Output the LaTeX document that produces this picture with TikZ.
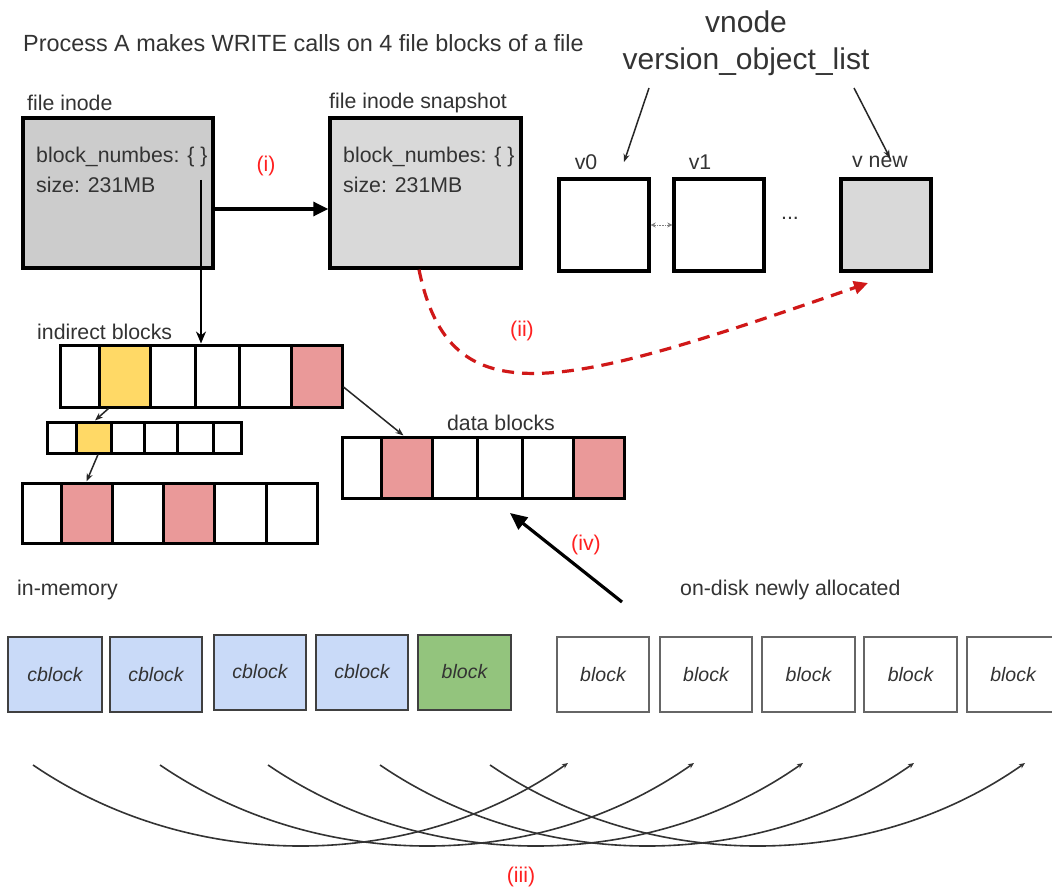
\documentclass[tikz,border=0pt]{standalone}
\usepackage{fontspec}
\setmainfont{Liberation Sans}
\usetikzlibrary{arrows.meta}
\definecolor{txt}{HTML}{333333}
\definecolor{inodefill}{HTML}{CCCCCC}
\definecolor{snapfill}{HTML}{D9D9D9}
\definecolor{yel}{HTML}{FFD966}
\definecolor{pnk}{HTML}{EA9999}
\definecolor{blu}{HTML}{C9DAF8}
\definecolor{grn}{HTML}{93C47D}
\definecolor{dred}{HTML}{D01818}
\definecolor{lred}{HTML}{FF2020}
\begin{document}
\begin{tikzpicture}[x=1pt,y=-1pt,
  lbl/.style={font=\fontsize{21.3}{26}\selectfont, text=txt, inner sep=0pt},
  ttl/.style={font=\fontsize{23.4}{28}\selectfont, text=txt, inner sep=0pt},
  bigl/.style={font=\fontsize{30}{34}\selectfont, text=txt, inner sep=0pt},
  redl/.style={font=\fontsize{21.3}{26}\selectfont, text=lred, inner sep=0pt},
  bigbox/.style={draw=black, line width=3.4pt, inner sep=0pt},
  cell/.style={draw=black, line width=3pt, inner sep=0pt, fill=white},
  memb/.style={draw=black!75, line width=2pt, inner sep=0pt, minimum height=75pt,
    font=\fontsize{19.5}{22}\selectfont\itshape, text=txt},
  diskb/.style={draw=black!60, line width=2.2pt, inner sep=0pt, minimum height=75pt, fill=white,
    font=\fontsize{19.5}{22}\selectfont\itshape, text=txt},
  smallarr/.style={line width=1.5pt, draw=black!85, -{Stealth[length=8pt,width=6pt]}},
  arcst/.style={line width=1.6pt, draw=black!80, -{Stealth[length=6pt,width=5pt]}}
]
\useasboundingbox (0,0) rectangle (1052,896);
\fill[white] (0,0) rectangle (1052,896);

% title
\node[ttl, anchor=west] (title) at (23,43) {Process A makes WRITE calls on 4 file blocks of a file};

% inode and snapshot
\node[bigbox, fill=inodefill, minimum width=190pt, minimum height=150pt] (inode) at (118,193) {};
\node[bigbox, fill=snapfill, minimum width=191pt, minimum height=150pt] (snap) at (425.5,193) {};
\node[lbl, anchor=west] (inodel) at (27,103) {file inode};
\node[lbl, anchor=west] (snapl) at (329,103) {file inode snapshot};
\node[lbl, anchor=west] (ibn) at (36,157) {block\_numbes: \{ \}};
\node[lbl, anchor=west] (isz) at (36,185) {size: 231MB};
\node[lbl, anchor=west] (sbn) at (343,157) {block\_numbes: \{ \}};
\node[lbl, anchor=west] (ssz) at (343,185) {size: 231MB};
\draw[line width=3.2pt, -{Triangle[length=15pt,width=14pt]}] ([yshift=-16pt]inode.east) -- ([yshift=-16pt]snap.west);
\node[redl] (li) at (266,166) {(i)};

% vnode
\node[bigl] (vnode) at (746,22) {vnode};
\node[bigl] (vol) at (746,62) {version\_object\_list};
\node[bigbox, fill=white, minimum width=90pt, minimum height=92pt] (v0) at (604,225) {};
\node[bigbox, fill=white, minimum width=90pt, minimum height=92pt] (v1) at (719,225) {};
\node[bigbox, fill=snapfill, minimum width=90pt, minimum height=92pt] (vnew) at (886,225) {};
\node[lbl] (v0l) at (586,162) {v0};
\node[lbl] (v1l) at (700,162) {v1};
\node[lbl] (vnewl) at (880,162) {v new};
\node[lbl, anchor=base] (dots) at (790,219) {...};
\coordinate (va) at (649,88);
\coordinate (vb) at (854,88);
\coordinate (vae) at (624,162);
\coordinate (vbe) at (890,158);
\draw[smallarr] (va) -- (vae);
\draw[smallarr] (vb) -- (vbe);
\draw[line width=0.6pt, draw=black!50, densely dotted, {Stealth[length=5pt,width=5pt]}-{Stealth[length=5pt,width=5pt]}] (v0.east) -- (v1.west);

% indirect blocks row 1
\node[lbl, anchor=west] (indl) at (37,332) {indirect blocks};
\node[cell, minimum width=39pt, minimum height=62pt] (r1c1) at (79.5,376) {};
\node[cell, fill=yel, minimum width=51pt, minimum height=62pt] (r1c2) at (124.5,376) {};
\node[cell, minimum width=45pt, minimum height=62pt] (r1c3) at (172.5,376) {};
\node[cell, minimum width=44pt, minimum height=62pt] (r1c4) at (217,376) {};
\node[cell, minimum width=52pt, minimum height=62pt] (r1c5) at (265,376) {};
\node[cell, fill=pnk, minimum width=51pt, minimum height=62pt] (r1c6) at (316.5,376) {};
% row 2
\node[cell, minimum width=29pt, minimum height=31pt] (r2c1) at (61.5,437.5) {};
\node[cell, fill=yel, minimum width=35pt, minimum height=31pt] (r2c2) at (93.5,437.5) {};
\node[cell, minimum width=33pt, minimum height=31pt] (r2c3) at (127.5,437.5) {};
\node[cell, minimum width=33pt, minimum height=31pt] (r2c4) at (160.5,437.5) {};
\node[cell, minimum width=36pt, minimum height=31pt] (r2c5) at (195,437.5) {};
\node[cell, minimum width=28pt, minimum height=31pt] (r2c6) at (227,437.5) {};
% row 3
\node[cell, minimum width=39pt, minimum height=60pt] (r3c1) at (41.5,513) {};
\node[cell, fill=pnk, minimum width=51pt, minimum height=60pt] (r3c2) at (86.5,513) {};
\node[cell, minimum width=51pt, minimum height=60pt] (r3c3) at (137.5,513) {};
\node[cell, fill=pnk, minimum width=51pt, minimum height=60pt] (r3c4) at (188.5,513) {};
\node[cell, minimum width=52pt, minimum height=60pt] (r3c5) at (240,513) {};
\node[cell, minimum width=51pt, minimum height=60pt] (r3c6) at (291.5,513) {};
% data blocks
\node[lbl] (datal) at (501,423) {data blocks};
\node[cell, minimum width=39pt, minimum height=61pt] (d1) at (361.5,467.5) {};
\node[cell, fill=pnk, minimum width=51pt, minimum height=61pt] (d2) at (406.5,467.5) {};
\node[cell, minimum width=45pt, minimum height=61pt] (d3) at (454.5,467.5) {};
\node[cell, minimum width=45pt, minimum height=61pt] (d4) at (499.5,467.5) {};
\node[cell, minimum width=51pt, minimum height=61pt] (d5) at (547.5,467.5) {};
\node[cell, fill=pnk, minimum width=51pt, minimum height=61pt] (d6) at (598.5,467.5) {};

% connectors of blocks
\coordinate (vs) at (201,180);
\draw[line width=2.6pt, -{Stealth[length=12pt,width=10pt]}] (vs) -- (vs |- r1c4.north);
\draw[smallarr] ([xshift=-16pt]r1c2.south) -- ([xshift=1.5pt]r2c2.north);
\draw[smallarr] ([xshift=4.5pt]r2c2.south) -- (r3c2.north);
\draw[smallarr] ([yshift=-11pt]r1c6.east) -- ([xshift=-3pt]d2.north);

% (ii) dashed
\coordinate (dend) at (868,283);
\draw[dred, line width=3.2pt, dash pattern=on 12pt off 8pt, -{Triangle[length=14pt,width=13pt]}]
  ([xshift=-6.5pt]snap.south) .. controls (450,420) and (560,390) .. (dend);
\node[redl] (lii) at (522,331) {(ii)};

% (iv)
\coordinate (ivs) at (622,602);
\coordinate (ive) at (510,513);
\draw[line width=3.2pt, -{Triangle[length=17pt,width=15pt]}] (ivs) -- (ive);
\node[redl] (liv) at (586,545) {(iv)};

% in-memory
\node[lbl, anchor=west] (meml) at (17,590) {in-memory};
\node[memb, fill=blu, minimum width=94pt] (m1) at (55,674.5) {cblock};
\node[memb, fill=blu, minimum width=92pt] (m2) at (156,674.5) {cblock};
\node[memb, fill=blu, minimum width=92pt] (m3) at (260,672) {cblock};
\node[memb, fill=blu, minimum width=92pt] (m4) at (362,672) {cblock};
\node[memb, fill=grn, minimum width=93pt] (m5) at (464.5,672) {block};

% on-disk
\node[lbl, anchor=west] (diskl) at (680,590) {on-disk newly allocated};
\node[diskb, minimum width=92pt] (k1) at (603,674.5) {block};
\node[diskb, minimum width=92pt] (k2) at (706,674.5) {block};
\node[diskb, minimum width=93pt] (k3) at (808.5,674.5) {block};
\node[diskb, minimum width=93pt] (k4) at (910.5,674.5) {block};
\node[diskb, minimum width=92pt] (k5) at (1013,674.5) {block};

% (iii) arcs
\foreach \s/\e [count=\i] in {33/568,160/694,268/803,380/914,490/1025} {
  \coordinate (as\i) at (\s,765);
  \coordinate (ae\i) at (\e,763);
  \draw[arcst] (as\i) .. controls ({\s+160},874) and ({\e-155},872) .. (ae\i);
}
\node[redl] (liii) at (521,877) {(iii)};
\end{tikzpicture}
\end{document}
